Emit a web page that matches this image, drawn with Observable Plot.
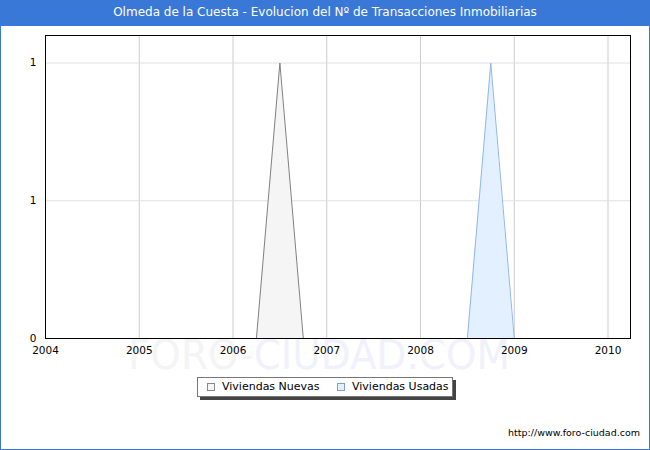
<!DOCTYPE html>
<html>
<head>
<meta charset="utf-8">
<script src="https://cdn.jsdelivr.net/npm/d3@7"></script>
<script src="https://cdn.jsdelivr.net/npm/@observablehq/plot@0.6"></script>
<style>
  html, body { margin: 0; padding: 0; background: #fff; }
  #wrap { position: relative; width: 650px; height: 450px; overflow: hidden; font-family: "DejaVu Sans", Verdana, sans-serif; }
  #border { position: absolute; left: 0; top: 0; width: 648px; height: 448px; border: 1px solid #3a78d8; box-sizing: content-box; pointer-events: none; z-index: 5; }
  #title { position: absolute; left: 0; top: 0; width: 650px; height: 26px; background: #3a78d8; color: #fff; font-size: 12px; line-height: 24px; text-align: center; z-index: 4; }
  #chart { position: absolute; left: 0; top: 0; z-index: 1; }
  #legend { position: absolute; left: 197px; top: 377px; width: 254px; height: 18px; border: 1px solid #777; background: #fff; box-shadow: 3px 3px 0 #444; z-index: 3; font-size: 11px; }
  .item { position: absolute; top: 2px; line-height: 14px; color: #000; white-space: nowrap; }
  .sw { position: absolute; top: 5px; width: 8px; height: 8px; box-sizing: border-box; }
  #footer { position: absolute; right: 10px; top: 427px; font-size: 9.5px; color: #000; z-index: 3; }
</style>
</head>
<body>
<div id="wrap">
  <div id="title"></div>
  <div id="chart"></div>
  <div id="legend"></div>
  <div id="footer">http://www.foro-ciudad.com</div>
  <div id="border"></div>
</div>
<script>
const titleText = "Olmeda de la Cuesta - Evolucion del Nº de Transacciones Inmobiliarias";
const seriesNames = ["Viviendas Nuevas", "Viviendas Usadas"];
const quarters = [2004, 2004.25, 2004.5, 2004.75, 2005, 2005.25, 2005.5, 2005.75,
                  2006, 2006.25, 2006.5, 2006.75, 2007, 2007.25, 2007.5, 2007.75,
                  2008, 2008.25, 2008.5, 2008.75, 2009, 2009.25, 2009.5, 2009.75, 2010];
const nuevas = [0, 0, 0, 0, 0, 0, 0, 0,
                0, 0, 1, 0, 0, 0, 0, 0,
                0, 0, 0, 0, 0, 0, 0, 0, 0];
const usadas = [0, 0, 0, 0, 0, 0, 0, 0,
                0, 0, 0, 0, 0, 0, 0, 0,
                0, 0, 0, 1, 0, 0, 0, 0, 0];
const xTicks = [2004, 2005, 2006, 2007, 2008, 2009, 2010];
const yTicks = [0, 0.5, 1];
const yTickLabels = ["0", "1", "1"];
const colors = {
  nuevas: { fill: "#f5f5f5", stroke: "#808080" },
  usadas: { fill: "#e3f0ff", stroke: "#93b6ee" }
};

document.getElementById("title").textContent = titleText;

const dataN = quarters.map((q, i) => ({ x: q, y: nuevas[i] }));
const dataU = quarters.map((q, i) => ({ x: q, y: usadas[i] }));

const chart = Plot.plot({
  width: 650,
  height: 450,
  marginLeft: 45,
  marginRight: 20,
  marginTop: 35,
  marginBottom: 112,
  style: { fontFamily: "DejaVu Sans, sans-serif", fontSize: "10.5px", background: "transparent", color: "#000" },
  x: { domain: [2004, 2010.24] },
  y: { domain: [0, 1.1] },
  marks: [
    Plot.ruleX(xTicks.slice(1), { stroke: "#cccccc", strokeWidth: 1 }),
    Plot.ruleY(yTicks.slice(1), { stroke: "#e2e2e2", strokeWidth: 1 }),
    Plot.areaY(dataN, { x: "x", y: "y", fill: colors.nuevas.fill }),
    Plot.lineY(dataN, { x: "x", y: "y", stroke: colors.nuevas.stroke, strokeWidth: 1 }),
    Plot.areaY(dataU, { x: "x", y: "y", fill: colors.usadas.fill }),
    Plot.lineY(dataU, { x: "x", y: "y", stroke: colors.usadas.stroke, strokeWidth: 1 }),
    Plot.frame({ stroke: "#000", strokeWidth: 1 }),
    Plot.axisX({ ticks: xTicks, tickSize: 0, tickPadding: 8, tickFormat: d => String(d), label: null }),
    Plot.axisY({ ticks: yTicks, tickSize: 0, tickPadding: 9, tickFormat: (d, i) => yTickLabels[i], label: null })
  ]
});

// watermark behind everything
const svg = d3.select(chart);
const wm = svg.insert("text", ":first-child")
  .attr("x", 128).attr("y", 369)
  .attr("text-anchor", "start")
  .attr("textLength", 382).attr("lengthAdjust", "spacingAndGlyphs")
  .style("font-family", "DejaVu Sans, sans-serif")
  .style("font-size", "40px");
wm.append("tspan").attr("fill", "#f4f4f5").text("FORO-");
wm.append("tspan").attr("fill", "#f1f1fc").text("CIUDAD.COM");

document.getElementById("chart").appendChild(chart);

// legend
const legend = document.getElementById("legend");
const items = [
  { name: seriesNames[0], c: colors.nuevas, sx: 9, tx: 24 },
  { name: seriesNames[1], c: colors.usadas, sx: 139, tx: 154 }
];
items.forEach(it => {
  const sw = document.createElement("div");
  sw.className = "sw";
  sw.style.left = it.sx + "px";
  sw.style.background = it.c.fill;
  sw.style.border = "1px solid " + (it === items[0] ? "#888" : "#7f9fcf");
  legend.appendChild(sw);
  const t = document.createElement("div");
  t.className = "item";
  t.style.left = it.tx + "px";
  t.textContent = it.name;
  legend.appendChild(t);
});
</script>
</body>
</html>
